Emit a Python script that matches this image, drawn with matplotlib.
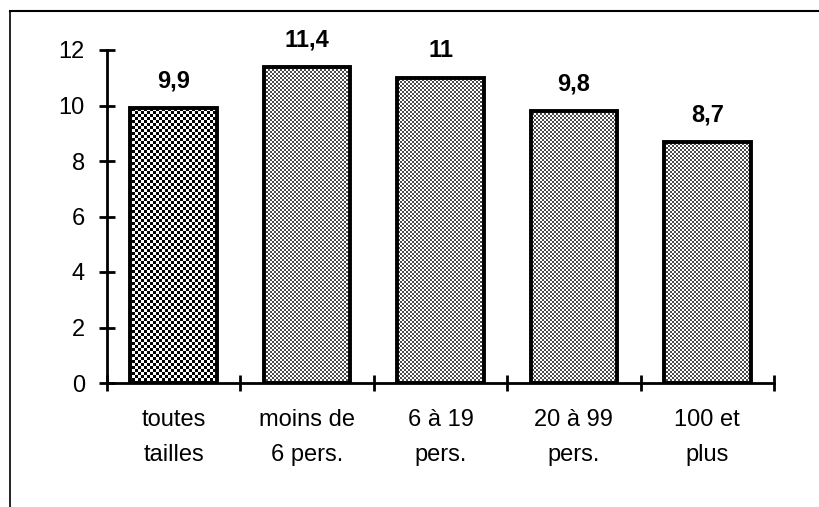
import numpy as np
import matplotlib.pyplot as plt
from matplotlib.lines import Line2D

categories = ["toutes\ntailles", "moins de\n6 pers.", "6 à 19\npers.", "20 à 99\npers.", "100 et\nplus"]
values = [9.9, 11.4, 11.0, 9.8, 8.7]
value_labels = ["9,9", "11,4", "11", "9,8", "8,7"]
yticks = [0, 2, 4, 6, 8, 10, 12]

plt.rcParams["font.family"] = ["Liberation Sans", "DejaVu Sans"]

W, H = 819, 507
fig = plt.figure(figsize=(W / 100, H / 100), dpi=100)
ax = fig.add_axes([107 / W, 1 - 383 / H, (774 - 107) / W, (383 - 50) / H])

x = np.arange(len(values))
bars = ax.bar(x, values, width=0.65, facecolor="none", edgecolor="black", linewidth=2.8, zorder=3)


def checker(cell, lo, hi):
    yy, xx = np.mgrid[0:H, 0:W]
    m = ((xx // cell + yy // cell) % 2).astype(float)
    return lo + (hi - lo) * m


# motifs tramés, alignés sur les pixels de la figure puis découpés par chaque barre
coarse = checker(3, 0.0, 1.0)
fine = checker(2, 0.3, 1.0)
for i, b in enumerate(bars):
    tex = coarse if i == 0 else fine
    im = fig.figimage(tex, cmap="gray", vmin=0, vmax=1, origin="lower", zorder=2)
    im.set_clip_path(b)

for xi, v, lab in zip(x, values, value_labels):
    ax.annotate(lab, (xi, v), xytext=(0, 11), textcoords="offset points",
                ha="center", va="bottom", fontsize=17, fontweight="bold")

ax.set_xlim(-0.5, len(values) - 0.5)
ax.set_ylim(0, 12)
ax.set_yticks(yticks)
ax.set_yticklabels([str(t) for t in yticks], fontsize=17)
ax.set_xticks(np.arange(len(values) + 1) - 0.5)
ax.set_xticklabels([])
for xi, c in zip(x, categories):
    ax.text(xi, -0.95, c, ha="center", va="top", fontsize=17, linespacing=1.75)

ax.tick_params(axis="both", direction="inout", length=12, width=2, pad=10)
for s in ["top", "right"]:
    ax.spines[s].set_visible(False)
for s in ["left", "bottom"]:
    ax.spines[s].set_linewidth(2)
ax.set_facecolor("none")
ax.set_zorder(3)

# cadre extérieur (haut et gauche seulement)
fig.add_artist(Line2D([10 / W, 1], [1 - 11 / H, 1 - 11 / H], color="black", lw=1.5, transform=fig.transFigure))
fig.add_artist(Line2D([10 / W, 10 / W], [0, 1 - 11 / H], color="black", lw=1.2, transform=fig.transFigure))

fig.savefig("out.png", dpi=100)
